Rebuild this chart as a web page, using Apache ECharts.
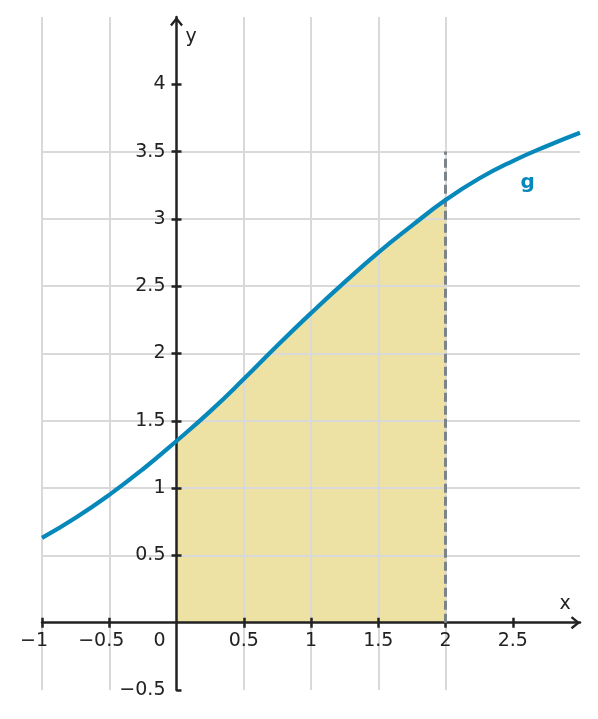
<!DOCTYPE html>
<html>
<head>
<meta charset="utf-8">
<script src="https://cdn.jsdelivr.net/npm/echarts@6/dist/echarts.min.js"></script>
<style>
  html, body { margin: 0; background: #fff; }
  #chart { width: 598px; height: 719px; }
</style>
</head>
<body>
<div id="chart"></div>
<script>
// curve g
const xs = [-1, -0.75, -0.5, -0.25, 0, 0.25, 0.5, 0.75, 1, 1.25, 1.5, 1.75, 2, 2.25, 2.5, 2.75, 3]
const gValues = [0.63, 0.78, 0.95, 1.14, 1.35, 1.57, 1.81, 2.06, 2.3, 2.53, 2.75, 2.95, 3.14, 3.3, 3.43, 3.54, 3.64]
const areaFrom = 0
const areaTo = 2
const boundaryLine = [[2, 0], [2, 3.5]]
const xLabelValues = [-1, -0.5, 0, 0.5, 1, 1.5, 2, 2.5]
const xTickValues = [-1, -0.5, 0.5, 1, 1.5, 2, 2.5]
const yLabelValues = [-0.5, 0.5, 1, 1.5, 2, 2.5, 3, 3.5, 4]
const yTickValues = [0.5, 1, 1.5, 2, 2.5, 3, 3.5, 4]
const yTickValuesRight = [-0.5, 0.5, 1, 1.5, 2, 2.5, 3, 3.5, 4]

const FONT = 'DejaVu Sans'
const INK = '#222'
const BLUE = '#0788bb'
const ARROW = 'path://M6,0L12,7.4L10.3,8.8L6,3.4L1.7,8.8L0,7.4Z'
const GRID = { left: 42, right: 18, top: 17, bottom: 29 }

const curve = xs.map((x, i) => [x, gValues[i]])
const area = curve.filter(p => p[0] >= areaFrom && p[0] <= areaTo)

const minus = v => String(v).replace('-', '\u2212')
const txt = { fontFamily: FONT, fontSize: 19, color: INK }

const chart = echarts.init(document.getElementById('chart'), null, { renderer: 'canvas' })

chart.setOption({
  animation: false,
  grid: { ...GRID, containLabel: false, outerBoundsMode: 'none' },
  xAxis: [{
    type: 'value',
    min: -1,
    max: 3,
    interval: 0.5,
    z: 3,
    name: 'x',
    nameLocation: 'end',
    nameGap: -15,
    nameTextStyle: { ...txt, align: 'center', verticalAlign: 'bottom', padding: [0, 0, 9, 0] },
    axisLine: {
      show: true,
      onZero: true,
      onZeroAxisIndex: 0,
      symbol: ['none', ARROW],
      symbolSize: [13, 9.5],
      symbolOffset: [0, -4.5],
      lineStyle: { color: INK, width: 2.5 }
    },
    axisTick: { show: true, inside: false, length: 5, customValues: xTickValues, lineStyle: { color: INK, width: 2.5 } },
    axisLabel: {
      ...txt,
      margin: 9,
      customValues: xLabelValues,
      formatter: v => v === 0 ? '{o|0}' : (v < 0 ? '{n|' + minus(v) + '}' : minus(v)),
      rich: {
        o: { ...txt, padding: [0, 34, 0, 0] },
        n: { ...txt, padding: [0, 16, 0, 0] }
      }
    },
    splitLine: { show: true, showMaxLine: false, lineStyle: { color: '#d9d9d9', width: 2 } }
  }, {
    type: 'value',
    min: -1,
    max: 3,
    interval: 0.5,
    z: 3,
    position: 'bottom',
    axisLine: { show: false, onZero: true, onZeroAxisIndex: 0 },
    axisTick: { show: true, inside: true, length: 5, customValues: xTickValues, lineStyle: { color: INK, width: 2.5 } },
    axisLabel: { show: false },
    splitLine: { show: false }
  }],
  yAxis: [{
    type: 'value',
    min: -0.5,
    max: 4.5,
    interval: 0.5,
    z: 3,
    name: 'y',
    nameLocation: 'end',
    nameGap: -20,
    nameTextStyle: { ...txt, align: 'left', verticalAlign: 'middle', padding: [0, 0, 0, 9] },
    axisLine: {
      show: true,
      onZero: true,
      onZeroAxisIndex: 0,
      symbol: ['none', ARROW],
      symbolSize: [13, 9.5],
      symbolOffset: [0, -4.5],
      lineStyle: { color: INK, width: 2.5 }
    },
    axisTick: { show: true, inside: false, length: 5, customValues: yTickValues, lineStyle: { color: INK, width: 2.5 } },
    axisLabel: { ...txt, margin: 11, customValues: yLabelValues, formatter: minus },
    splitLine: { show: true, showMaxLine: false, lineStyle: { color: '#d9d9d9', width: 2 } }
  }, {
    type: 'value',
    min: -0.5,
    max: 4.5,
    interval: 0.5,
    z: 3,
    position: 'left',
    axisLine: { show: false, onZero: true, onZeroAxisIndex: 0 },
    axisTick: { show: true, inside: true, length: 5, customValues: yTickValuesRight, lineStyle: { color: INK, width: 2.5 } },
    axisLabel: { show: false },
    splitLine: { show: false }
  }],
  series: [{
    // shaded region under g from 0 to 2
    type: 'line',
    data: area,
    smooth: 0.5,
    showSymbol: false,
    z: 1,
    lineStyle: { width: 0 },
    areaStyle: { color: '#ede1a4', opacity: 1 }
  }, {
    type: 'line',
    data: boundaryLine,
    showSymbol: false,
    z: 4,
    lineStyle: { color: '#7c8489', width: 3, type: [9, 4] }
  }, {
    name: 'g',
    type: 'line',
    data: curve,
    smooth: 0.5,
    showSymbol: false,
    z: 5,
    lineStyle: { color: BLUE, width: 4.2 },
    markPoint: {
      symbol: 'circle',
      symbolSize: 1,
      itemStyle: { color: 'transparent' },
      label: { show: true, position: 'inside', formatter: 'g', fontFamily: FONT, fontSize: 20, fontWeight: 'bold', color: BLUE },
      data: [{ coord: [2.61, 3.27] }]
    }
  }]
})

// labels stay on the grid edge here, so pull them in to the zero lines
const origin = chart.convertToPixel({ gridIndex: 0 }, [0, 0])
const fromLeft = origin[0] - GRID.left
const fromBottom = (719 - GRID.bottom) - origin[1]
chart.setOption({
  xAxis: [{ axisLabel: { margin: 9 - fromBottom } }, {}],
  yAxis: [{ axisLabel: { margin: 11 - fromLeft } }, {}]
})
</script>
</body>
</html>
